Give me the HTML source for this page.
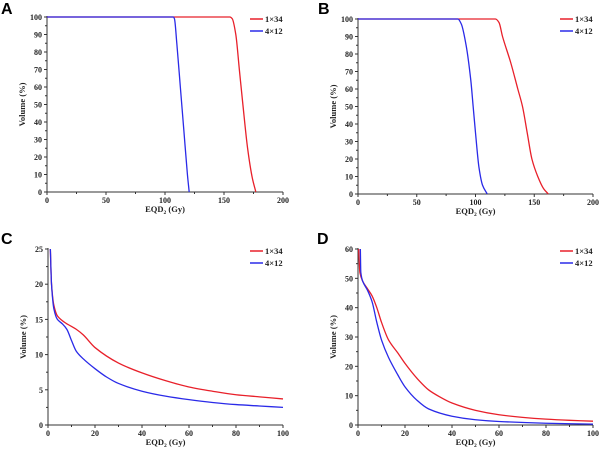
<!DOCTYPE html>
<html><head><meta charset="utf-8"><style>
html,body{margin:0;padding:0;background:#fff;}
svg{display:block;}
text{font-family:"Liberation Serif",serif;font-weight:bold;fill:#222;}
.lbl{font-family:"Liberation Sans",sans-serif;font-size:16px;fill:#000;}
</style></head><body>
<svg id="chart" width="600" height="449" viewBox="0 0 600 449"></svg>
<script>
const seriesNames = ["1×34", "4×12"];
const aRedX = [0,155,157,160,163,166,170,174,177];
const aRedY = [100,100,99,90,70,50,25,8,0];
const aBlueX = [0,107,108,110,113,116,119,120.5];
const aBlueY = [100,100,99,85,60,35,10,0];
const bRedX = [0,117,120,123,130,136,140,144,148,153,158,162];
const bRedY = [100,100,98,90,75,60,50,35,20,10,3,0];
const bBlueX = [0,85,88,92,96,98,100,103,106,110];
const bBlueY = [100,100,97,85,65,50,35,15,5,0];
const cRedX = [1,1.5,2.5,4,7,12,15,20,30,40,50,60,70,80,90,100];
const cRedY = [25,20,17,15.5,14.6,13.6,12.8,11,8.8,7.4,6.3,5.4,4.8,4.3,4,3.7];
const cBlueX = [1,1.5,2.5,4,6,8,10,12,15,20,25,30,40,50,60,70,80,90,100];
const cBlueY = [25,20,16.5,15,14.4,13.6,12,10.5,9.4,8,6.8,5.9,4.8,4.1,3.6,3.2,2.9,2.7,2.5];
const dRedX = [0.3,0.8,2,4,6,8,10,13,17,20,25,30,35,40,50,60,70,80,90,100];
const dRedY = [60,52,49,46.5,44,40,35,29,24.5,21,16,12,9.5,7.5,5,3.5,2.6,2,1.6,1.3];
const dBlueX = [1,1.2,2,4,6,8,10,13,17,20,25,30,40,50,60,80,100];
const dBlueY = [60,52,49,46,42,35,29,23,17,13,8.5,5.5,3,1.8,1.2,0.6,0.3];
const abXTicks = [0,50,100,150,200];
const abYTicks = [0,10,20,30,40,50,60,70,80,90,100];
const cXTicks = [0,20,40,60,80,100];
const cYTicks = [0,5,10,15,20,25];
const dXTicks = [0,20,40,60,80,100];
const dYTicks = [0,10,20,30,40,50,60];

const NS = "http://www.w3.org/2000/svg";
const svg = document.getElementById("chart");
function mk(tag, attrs, parent){
  const e = document.createElementNS(NS, tag);
  for (const k in attrs) e.setAttribute(k, attrs[k]);
  (parent||svg).appendChild(e);
  return e;
}
function monotonePath(px, py){
  const n = px.length;
  if (n < 3) return px.map((x,i)=>(i?"L":"M")+x+","+py[i]).join("");
  const d = [], m = new Array(n);
  for (let i=0;i<n-1;i++) d.push((py[i+1]-py[i])/(px[i+1]-px[i]));
  m[0]=d[0]; m[n-1]=d[n-2];
  for (let i=1;i<n-1;i++) m[i] = (d[i-1]*d[i] <= 0) ? 0 : 2/(1/d[i-1]+1/d[i]);
  let s = "M"+px[0].toFixed(2)+","+py[0].toFixed(2);
  for (let i=0;i<n-1;i++){
    const h = px[i+1]-px[i];
    s += "C"+(px[i]+h/3).toFixed(2)+","+(py[i]+m[i]*h/3).toFixed(2)+" "+(px[i+1]-h/3).toFixed(2)+","+(py[i+1]-m[i+1]*h/3).toFixed(2)+" "+px[i+1].toFixed(2)+","+py[i+1].toFixed(2);
  }
  return s;
}
function panel(p){
  const g = mk("g", {});
  
  
  const xmax = p.xt[p.xt.length-1], ymax = p.yt[p.yt.length-1];
  const sx = v => p.x0 + (p.x1 - p.x0) * v / xmax;
  const sy = v => p.y0 - (p.y0 - p.y1) * v / ymax;
  const lt = mk("text", {x: p.lx, y: p.ly, class: "lbl"}, g);
  lt.textContent = p.id.toUpperCase();
  
  
  const ax = mk("path", {d: `M${p.x0},${p.y1-1}V${p.y0}H${p.x1}`, stroke:"#333", fill:"none", "stroke-width":1}, g);
  
  
  p.xt.forEach((v,i) => {
    mk("line", {x1:sx(v), x2:sx(v), y1:p.y0, y2:p.y0+3, stroke:"#333"}, g);
    if (i < p.xt.length-1) { const m=(v+p.xt[i+1])/2; mk("line", {x1:sx(m), x2:sx(m), y1:p.y0, y2:p.y0+2, stroke:"#333"}, g); }
    const t = mk("text", {x: sx(v), y: p.y0+11, "font-size":8, "text-anchor":"middle"}, g);
    t.textContent = v;
    
    
  });
  p.yt.forEach((v,i) => {
    mk("line", {x1:p.x0-3, x2:p.x0, y1:sy(v), y2:sy(v), stroke:"#333"}, g);
    if (i < p.yt.length-1) { const m=(v+p.yt[i+1])/2; mk("line", {x1:p.x0-2, x2:p.x0, y1:sy(m), y2:sy(m), stroke:"#333"}, g); }
    const t = mk("text", {x: p.x0-5, y: sy(v)+3, "font-size":8, "text-anchor":"end"}, g);
    t.textContent = v;
    
    
  });
  const xl = mk("text", {x:(p.x0+p.x1)/2, y:p.y0+20, "font-size":8.5, "text-anchor":"middle"}, g);
  xl.innerHTML = 'EQD<tspan font-size="5.5" dy="2">2</tspan><tspan dy="-2"> (Gy)</tspan>';
  
  
  const yl = mk("text", {x:0, y:0, "font-size":8.5, "text-anchor":"middle", transform:`translate(${p.x0-22},${(p.y0+p.y1)/2}) rotate(-90)`}, g);
  yl.textContent = "Volume (%)";
  
  
  const cols = ["#e8202a", "#2a2ae8"];
  p.series.forEach((s, i) => {
    const d = monotonePath(s[0].map(sx), s[1].map(sy));
    const path = mk("path", {d, stroke: cols[i], fill:"none", "stroke-width":1.3, "stroke-linejoin":"round"}, g);
    
    
    const ly = p.legY + i * 12;
    const ll = mk("line", {x1:p.legX, x2:p.legX+13, y1:ly, y2:ly, stroke:cols[i], "stroke-width":1.5}, g);
    
    
    const lt2 = mk("text", {x:p.legX+15, y:ly+3, "font-size":8.5}, g);
    lt2.textContent = seriesNames[i];
    
    
  });
}
panel({id:"a", x0:47, x1:283, y0:192, y1:17, xt:abXTicks, yt:abYTicks, lx:1, ly:14, legX:250, legY:19, series:[[aRedX,aRedY],[aBlueX,aBlueY]]});
panel({id:"b", x0:358, x1:593, y0:194, y1:19, xt:abXTicks, yt:abYTicks, lx:318, ly:14, legX:560, legY:19, series:[[bRedX,bRedY],[bBlueX,bBlueY]]});
panel({id:"c", x0:48, x1:283, y0:425, y1:249, xt:cXTicks, yt:cYTicks, lx:1, ly:244, legX:250, legY:251, series:[[cRedX,cRedY],[cBlueX,cBlueY]]});
panel({id:"d", x0:358, x1:593, y0:425, y1:249, xt:dXTicks, yt:dYTicks, lx:317, ly:244, legX:560, legY:251, series:[[dRedX,dRedY],[dBlueX,dBlueY]]});
</script>
</body></html>
